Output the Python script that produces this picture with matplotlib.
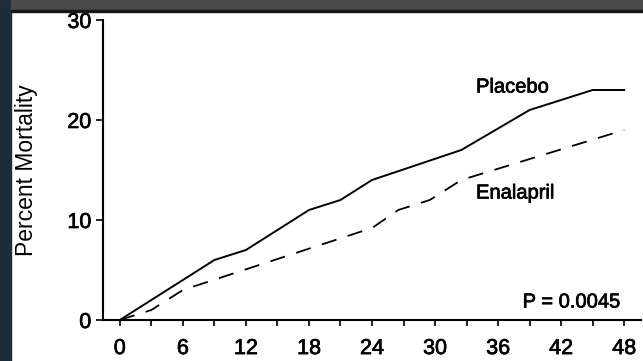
import matplotlib
matplotlib.use("Agg")
import matplotlib.pyplot as plt
import matplotlib.patheffects as pe
from matplotlib.patches import Rectangle

# cumulative mortality (%) by month of follow-up
placebo_months = [0, 9, 12, 18, 21, 24, 32.5, 39, 45, 48]
placebo_pct = [0, 6, 7, 11, 12, 14, 17, 21, 23, 23]

enalapril_months = [0, 3, 6, 24, 26.5, 29.5, 32.5, 48]
enalapril_pct = [0, 1, 3, 9.2, 11, 12, 14, 19]

month_ticks = list(range(0, 49, 6))
month_minor = list(range(0, 49, 3))
pct_ticks = [0, 10, 20, 30]

W, H = 643, 361
plt.rcParams["font.family"] = ["Liberation Sans", "DejaVu Sans"]

fig = plt.figure(figsize=(W / 100, H / 100), dpi=100, facecolor="white")

# slide frame: dark strip on the left, grey title bar on top
fig.patches.append(Rectangle((0, 0), 11 / W, 1, transform=fig.transFigure,
                             color="#1c2c3b", zorder=0))
fig.patches.append(Rectangle((11 / W, 1 - 10 / H), 1, 10 / H, transform=fig.transFigure,
                             color="#4b4b4b", zorder=0))
fig.patches.append(Rectangle((11 / W, 1 - 11.5 / H), 1, 1.5 / H, transform=fig.transFigure,
                             color="#161616", zorder=0))

ax = fig.add_axes([102.5 / W, 1 - 320 / H, (641 - 102.5) / W, 300 / H])
ax.set_facecolor("none")

ax.plot(placebo_months, placebo_pct, color="black", lw=1.4, solid_joinstyle="round")
ax.plot(enalapril_months, enalapril_pct, color="black", lw=1.3,
        linestyle=(0, (8.5, 6.5)))

ax.set_xlim(-1.65, 49.6)
ax.set_ylim(0, 30)

for side in ("top", "right"):
    ax.spines[side].set_visible(False)
for side in ("left", "bottom"):
    ax.spines[side].set_linewidth(1.5)

ax.set_xticks(month_ticks)
ax.set_xticks(month_minor, minor=True)
ax.set_yticks(pct_ticks)
ax.tick_params(axis="x", which="both", direction="out", length=4, width=1.2,
               pad=9, labelsize=15.5)
ax.tick_params(axis="y", direction="out", length=5, width=1.2, pad=3,
               labelsize=15.5)

ax.set_ylabel("Percent Mortality", fontsize=16.5, labelpad=21)

ax.text(33.9, 23.3, "Placebo", fontsize=14.5, va="center", ha="left")
ax.text(33.9, 12.7, "Enalapril", fontsize=14.5, va="center", ha="left")
ax.text(47.6, 1.8, "P = 0.0045", fontsize=14.5, va="center", ha="right")

# printed-figure look: slightly heavier glyphs
heavy = [pe.withStroke(linewidth=0.5, foreground="black")]
for t in ax.get_xticklabels() + ax.get_yticklabels() + ax.texts:
    t.set_path_effects(heavy)

fig.savefig("out.png", dpi=100, facecolor=fig.get_facecolor())
